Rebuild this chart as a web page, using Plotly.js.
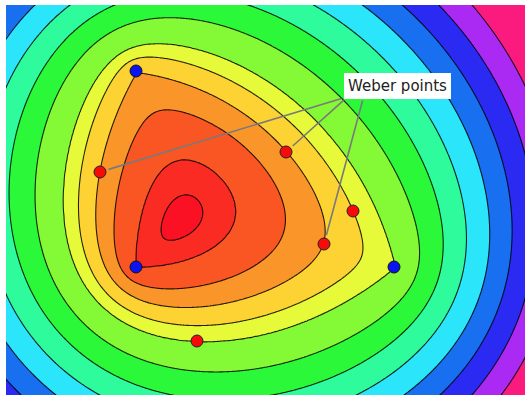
<!DOCTYPE html>
<html>
<head>
<meta charset="utf-8">
<script src="https://cdn.plot.ly/plotly-3.0.1.min.js"></script>
<style>html,body{margin:0;padding:0;background:#fff;}#plot{width:525px;height:395px;}</style>
</head>
<body>
<div id="plot"></div>
<script>
// Anchor (demand) points of the Weber problem, blue markers
var anchorX = [136, 136, 394];
var anchorY = [71, 267, 267];
// Candidate "Weber points", red markers
var weberX = [100, 286, 353, 324, 197];
var weberY = [172, 152, 211, 244, 341];
// Contour levels of the total-distance surface (center outward)
var levels = [441.5, 454, 486, 518, 552, 584, 650, 715, 780, 846, 910, 976, 1042];
// Band colours, centre outward
var bandColors = ['#fb1124', '#f92b22', '#f95623', '#fa9629', '#fdd333', '#e6fa3a',
  '#84f935', '#2cf83a', '#2dfb9c', '#2be5fb', '#1870f1', '#2a2af3', '#aa2af3', '#fb1b7e'];
var labelText = 'Weber points';

function totalDist(x, y) {
  var s = 0;
  for (var i = 0; i < anchorX.length; i++) {
    var dx = x - anchorX[i], dy = y - anchorY[i];
    s += Math.sqrt(dx * dx + dy * dy);
  }
  return s;
}
function toIndex(f) {
  var n = levels.length;
  if (f < levels[0]) return 1 - (levels[0] - f) / (levels[1] - levels[0]);
  for (var i = 0; i < n - 1; i++) {
    if (f < levels[i + 1]) return i + 1 + (f - levels[i]) / (levels[i + 1] - levels[i]);
  }
  return n + (f - levels[n - 1]) / (levels[n - 1] - levels[n - 2]);
}

var gx = [], gy = [], gz = [];
for (var x = 4; x <= 528; x += 1.5) gx.push(x);
for (var y = 2; y <= 398; y += 1.5) gy.push(y);
for (var j = 0; j < gy.length; j++) {
  var row = [];
  for (var i = 0; i < gx.length; i++) row.push(toIndex(totalDist(gx[i], gy[j])));
  gz.push(row);
}
// step colour scale: each band colour is constant over a whole interval
var nL = levels.length;
var cs = [[0, bandColors[0]]];
for (var k = 0; k < nL; k++) {
  var b = (k + 0.75) / nL;
  cs.push([b, bandColors[k]]);
  cs.push([b, bandColors[k + 1]]);
}
cs.push([1, bandColors[nL]]);

var traces = [
  {
    type: 'contour', x: gx, y: gy, z: gz,
    autocontour: false,
    contours: {start: 1, end: nL, size: 1, coloring: 'fill'},
    colorscale: cs, showscale: false,
    line: {color: 'rgba(0,0,0,0.85)', width: 1.1, smoothing: 1},
    hoverinfo: 'skip'
  },
  {
    type: 'scatter', mode: 'markers', x: anchorX, y: anchorY,
    marker: {color: '#0a14f2', size: 12, line: {color: '#111', width: 1}},
    hoverinfo: 'skip'
  },
  {
    type: 'scatter', mode: 'markers', x: weberX, y: weberY,
    marker: {color: '#f80a0a', size: 12, line: {color: '#222', width: 1}},
    hoverinfo: 'skip'
  }
];

var tails = [[343, 98], [345, 99], [363, 99]];
var targets = [0, 1, 3];
var annotations = [];
for (var t = 0; t < targets.length; t++) {
  annotations.push({
    x: weberX[targets[t]], y: weberY[targets[t]], xref: 'x', yref: 'y',
    ax: tails[t][0], ay: tails[t][1], axref: 'x', ayref: 'y',
    text: '', showarrow: true, arrowhead: 0, arrowwidth: 1.6,
    arrowcolor: '#7a7a7a', standoff: 9
  });
}
annotations.push({
  x: 397.5, y: 86, xref: 'x', yref: 'y', text: labelText, showarrow: false,
  bgcolor: '#ffffff', borderpad: 4, borderwidth: 0,
  font: {family: 'DejaVu Sans, sans-serif', size: 15, color: '#222'}
});

var layout = {
  width: 525, height: 395,
  margin: {l: 6, r: 0, t: 5, b: 0, pad: 0},
  paper_bgcolor: '#ffffff', plot_bgcolor: '#ffffff',
  showlegend: false,
  xaxis: {range: [6, 525], visible: false, showgrid: false, zeroline: false, fixedrange: true},
  yaxis: {range: [395, 5], visible: false, showgrid: false, zeroline: false, fixedrange: true},
  annotations: annotations
};
Plotly.newPlot('plot', traces, layout, {staticPlot: true, displayModeBar: false});
</script>
</body>
</html>
